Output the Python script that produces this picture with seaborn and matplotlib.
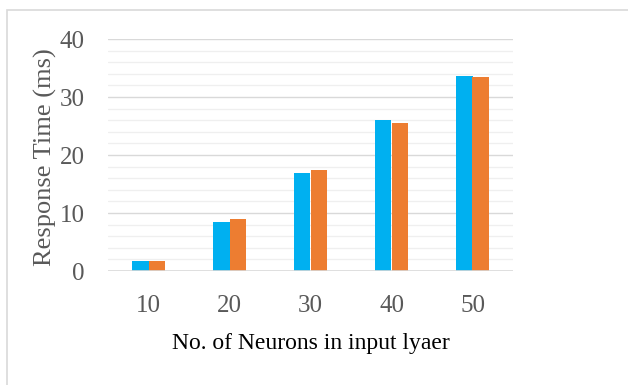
import matplotlib
matplotlib.use("Agg")
import matplotlib.pyplot as plt
import seaborn as sns
import pandas as pd
from matplotlib.patches import Rectangle

categories = ["10", "20", "30", "40", "50"]
series_a = [1.8, 8.5, 16.9, 26.0, 33.7]
series_b = [1.8, 9.0, 17.4, 25.5, 33.4]
series_names = ["A", "B"]
y_ticks = [0, 10, 20, 30, 40]

df = pd.DataFrame({
    "cat": categories * 2,
    "val": series_a + series_b,
    "series": [series_names[0]] * 5 + [series_names[1]] * 5,
})

sns.set_theme(style="white")
plt.rcParams["font.family"] = ["Liberation Serif", "DejaVu Serif"]

W, H = 628, 385
fig = plt.figure(figsize=(W / 100, H / 100), dpi=100)
ax = fig.add_axes([108 / W, 1 - 271 / H, (513 - 108) / W, (271 - 39) / H])

# figure border
fig.patches.append(Rectangle((7 / W, -0.1), 1.2, 1 - 10 / H + 0.1, transform=fig.transFigure,
                             fill=False, edgecolor="#D9D9D9", linewidth=1.2, zorder=0))

# gridlines
for v in range(2, 41, 2):
    if v % 10 == 0:
        ax.axhline(v, color="#D9D9D9", lw=1.0, zorder=0)
    else:
        ax.axhline(v, color="#EFEFEF", lw=0.9, zorder=0)

sns.barplot(data=df, x="cat", y="val", hue="series", order=categories,
            palette=["#00B0F0", "#ED7D31"], width=0.4, gap=0, ax=ax,
            legend=False, saturation=1, zorder=2, linewidth=0)

ax.axhline(0, color="#D9D9D9", lw=1.2, zorder=3)
ax.set_xlim(-0.5, 4.5)
ax.set_ylim(0, 40)
ax.set_yticks(y_ticks)
ax.set_yticklabels([str(t) for t in y_ticks])
for s in ax.spines.values():
    s.set_visible(False)
ax.tick_params(axis="both", length=0, labelsize=18, labelcolor="#595959")
ax.tick_params(axis="x", pad=17)
ax.tick_params(axis="y", pad=17)
ax.set_xlabel("No. of Neurons in input lyaer", fontsize=17, color="#000000", labelpad=12)
ax.set_ylabel("Response Time (ms)", fontsize=19, color="#595959")
ax.yaxis.set_label_coords(-0.125, 0.49)

fig.savefig("out.png", dpi=100)
